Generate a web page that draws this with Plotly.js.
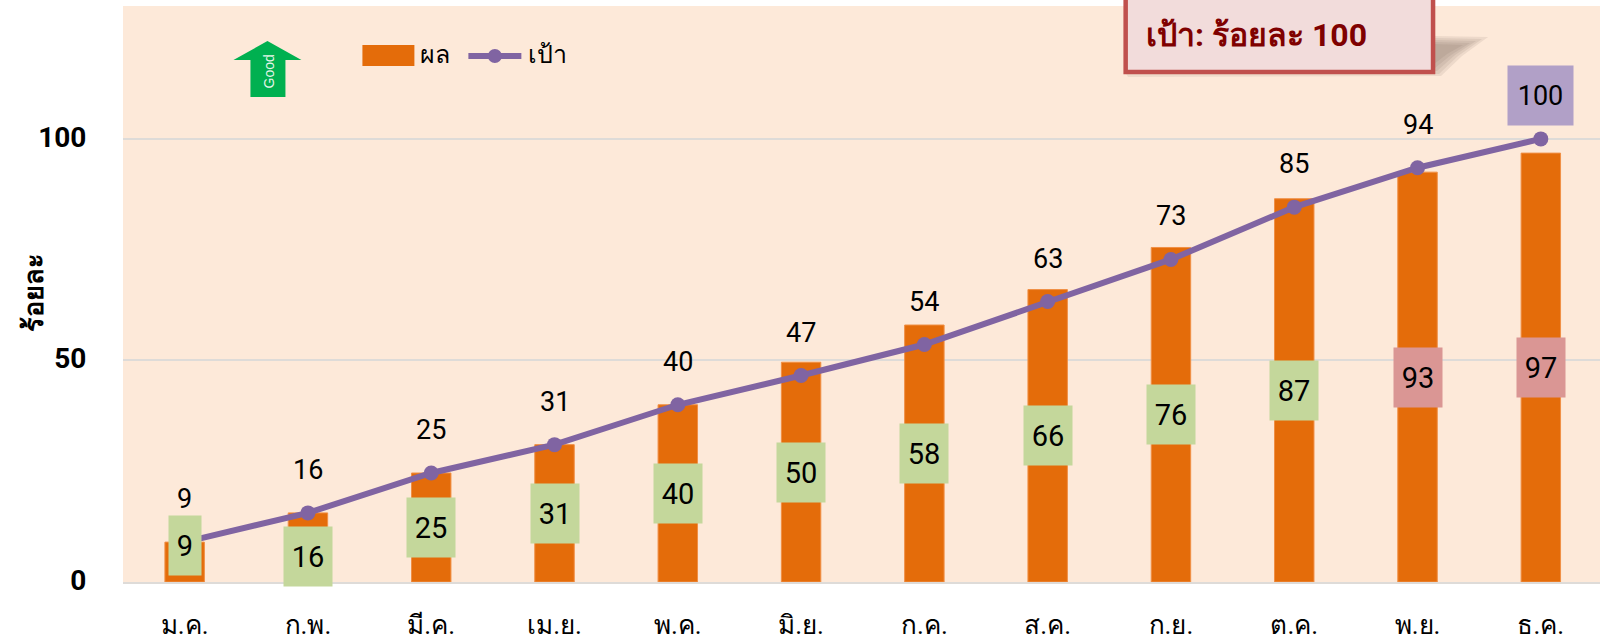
<!DOCTYPE html>
<html><head><meta charset="utf-8">
<script src="https://cdn.plot.ly/plotly-3.0.1.min.js"></script>
<style>html,body{margin:0;padding:0;background:#fff;overflow:hidden}</style></head>
<body><div id="chart" style="width:1600px;height:641px"></div>
<script>
const months = ['ม.ค.','ก.พ.','มี.ค.','เม.ย.','พ.ค.','มิ.ย.','ก.ค.','ส.ค.','ก.ย.','ต.ค.','พ.ย.','ธ.ค.'];
const result = [9,15.6,24.6,31,40,49.6,58,66,75.5,86.5,92.5,96.8];
const target = [9,15.6,24.6,31,40,46.6,53.6,63.3,72.8,84.6,93.5,100];
const resultColors = ['g','g','g','g','g','g','g','g','g','g','r','r'];
const yTicks = [0,50,100];

const W=1600,H=641,L=122.5,T=6,B=59;
const FONT='Roboto, "Noto Sans", "Liberation Sans", sans-serif';
const px=x=>(x-L)/(W-L), py=y=>1-(y-T)/(H-T-B);
const poly=pts=>'M'+pts.map(p=>px(p[0]).toFixed(5)+','+py(p[1]).toFixed(5)).join('L')+'Z';
const pshape=(pts,fill,opacity)=>({type:'path',xref:'paper',yref:'paper',path:poly(pts),fillcolor:fill,opacity:opacity===undefined?1:opacity,line:{width:0}});
const ptext=(x,y,text,o)=>Object.assign({xref:'paper',yref:'paper',x:px(x),y:py(y),text,showarrow:false,xanchor:'left',yanchor:'middle',font:{family:FONT,size:24,color:'#000'}},o||{});

const labelCentre=(v,i)=>i===0?8.3:i===1?5.7:v/2;
const boxFill={g:'#C4D79B',r:'#DA9694'};
const annotations=[];
result.forEach((v,i)=>annotations.push({x:i,y:labelCentre(v,i),xref:'x',yref:'y',text:String(Math.round(v)),showarrow:false,
  bgcolor:boxFill[resultColors[i]],width:v<10?32:48,height:59,borderpad:0,valign:'middle',align:'center',
  font:{family:FONT,size:29,color:'#000'}}));
target.forEach((v,i)=>annotations.push({x:i,y:v,xref:'x',yref:'y',yshift:43,text:String(Math.round(v)),showarrow:false,
  bgcolor:i===11?'#B1A0C7':'rgba(0,0,0,0)',width:i===11?65:undefined,height:i===11?59:undefined,borderpad:0,valign:'middle',
  font:{family:FONT,size:27,color:'#000'}}));
annotations.push(
  ptext(269,71,'Good',{textangle:-90,xanchor:'center',font:{family:'"Liberation Sans",sans-serif',size:14,color:'#E6F5EA'}}),
  ptext(418,55,'ผล',{font:{family:FONT,size:25,color:'#000'}}),
  ptext(526,55,'เป้า',{font:{family:FONT,size:25,color:'#000'}}),
  ptext(1144,35,'เป้า: ร้อยละ 100',{font:{family:FONT,size:32,color:'#7F0000',weight:700}}),
  ptext(33,292,'ร้อยละ',{textangle:-90,xanchor:'center',font:{family:FONT,size:27,color:'#000',weight:700}})
);

const shadowLayers=[
  [[1434,36],[1488,37],[1462,56],[1441,76],[1434,76]],
  [[1434,38],[1482,39],[1458,56],[1439,74],[1434,74]],
  [[1434,40],[1476,41],[1455,55],[1437,71],[1434,71]],
  [[1434,42],[1470,43],[1451,55],[1435,68],[1434,68]],
  [[1434,44],[1463,45],[1447,54],[1434,64]]
].map(p=>pshape(p,'#6E5F52',0.11));

const shapes=[
  ...shadowLayers,
  pshape([[1126,74],[1434,74],[1434,76],[1128,77]],'#6E5F52',0.10),
  {type:'rect',xref:'paper',yref:'paper',x0:px(1125.5),x1:px(1433),y0:py(-6),y1:py(72),fillcolor:'#F2DCDB',line:{color:'#C0504D',width:4.5}},
  pshape([[267,41],[301,60],[285,60],[285,97],[250,97],[250,60],[233,60]],'#00B050'),
  {type:'rect',xref:'paper',yref:'paper',x0:px(362),x1:px(414),y0:py(66),y1:py(45),fillcolor:'#E46C0A',line:{width:0}},
  {type:'line',xref:'paper',yref:'paper',x0:px(468),x1:px(521),y0:py(56),y1:py(56),line:{color:'#8064A2',width:6}},
  {type:'circle',xref:'paper',yref:'paper',x0:px(487.5),x1:px(501.5),y0:py(63),y1:py(49),fillcolor:'#8064A2',line:{width:0}}
];

const traces=[
 {type:'bar',name:'ผล',x:months.map((_,i)=>i),y:result,width:0.32,marker:{color:'#E46C0A',line:{color:'#F08F45',width:1}},showlegend:false,hoverinfo:'y'},
 {type:'scatter',mode:'lines+markers',name:'เป้า',x:months.map((_,i)=>i),y:target,line:{color:'#8064A2',width:6},marker:{color:'#8064A2',size:15},showlegend:false,hoverinfo:'y'}
];
const layout={width:W,height:H,margin:{l:L,r:0,t:T,b:B,pad:0},paper_bgcolor:'#fff',plot_bgcolor:'#FDE9D9',showlegend:false,
 font:{family:FONT,color:'#000'},
 xaxis:{range:[-0.5,11.48],tickmode:'array',tickvals:months.map((_,i)=>i),ticktext:months,ticks:'outside',ticklen:19,tickcolor:'rgba(0,0,0,0)',
   tickfont:{family:FONT,size:26,color:'#000'},showgrid:false,zeroline:false,showline:true,linecolor:'#DEDBD8',linewidth:2,fixedrange:true},
 yaxis:{range:[0,130],tickmode:'array',tickvals:yTicks,ticktext:yTicks.map(String),ticks:'outside',ticklen:30,tickcolor:'rgba(0,0,0,0)',ticklabelshift:-2,
   tickfont:{family:FONT,size:28,color:'#000',weight:700},showgrid:true,gridcolor:'#DEDBD8',gridwidth:2,zeroline:false,fixedrange:true},
 annotations,shapes};
Plotly.newPlot('chart',traces,layout,{staticPlot:true,displayModeBar:false});
</script></body></html>
